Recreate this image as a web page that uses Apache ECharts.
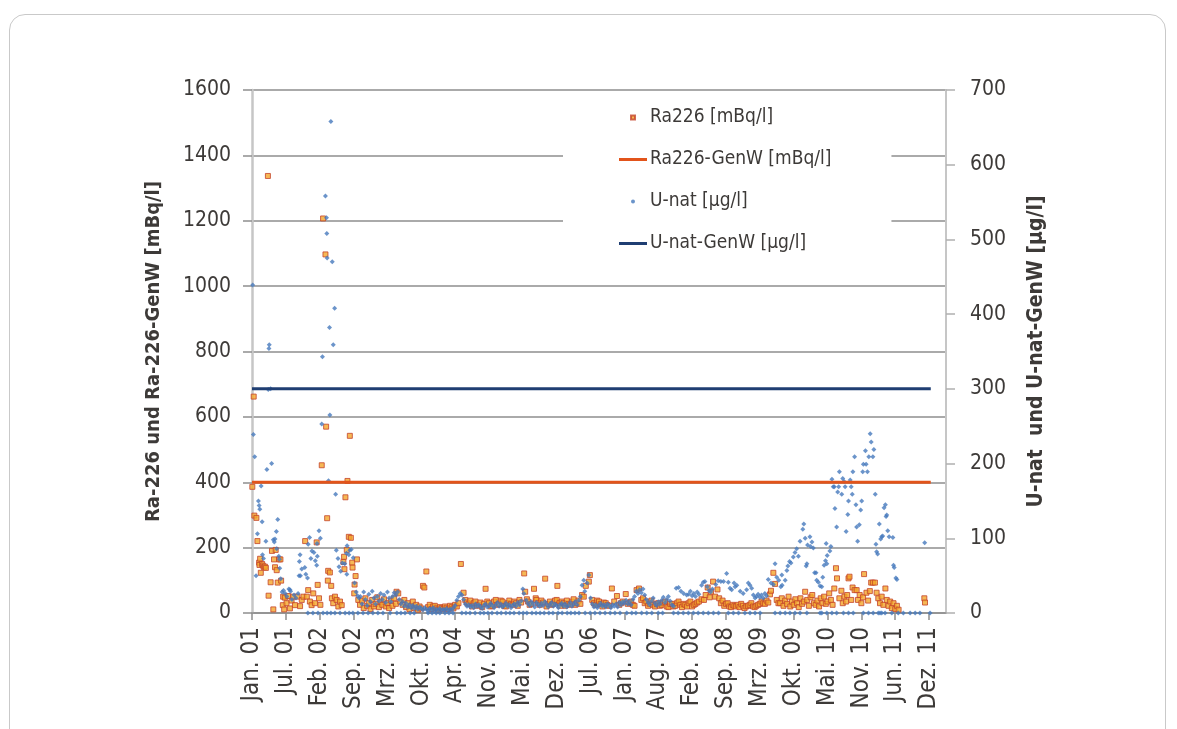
<!DOCTYPE html>
<html>
<head>
<meta charset="utf-8">
<title>Ra-226 und U-nat</title>
<script src="https://cdn.jsdelivr.net/npm/echarts@6/dist/echarts.min.js"></script>
<style>
  html, body { margin: 0; padding: 0; background: #ffffff; }
  #frame {
    position: absolute; left: 9px; top: 14px; width: 1157px; height: 760px;
    border: 1.5px solid #c9c9c9; border-radius: 16px; box-sizing: border-box;
  }
  #chart { position: absolute; left: 0; top: 0; width: 1177px; height: 729px; }
</style>
</head>
<body>
<div id="frame"></div>
<div id="chart"></div>
<script>
// Category labels of the time axis (one label per axis unit)
const tickLabels = ['Jan. 01', 'Jul. 01', 'Feb. 02', 'Sep. 02', 'Mrz. 03', 'Okt. 03', 'Apr. 04',
  'Nov. 04', 'Mai. 05', 'Dez. 05', 'Jul. 06', 'Jan. 07', 'Aug. 07', 'Feb. 08', 'Sep. 08',
  'Mrz. 09', 'Okt. 09', 'Mai. 10', 'Nov. 10', 'Jun. 11', 'Dez. 11'];

// Guideline values (Grenzwerte) and the time span they are drawn over
const raLimit = 400;     // mBq/l
const uLimit = 300;      // µg/l
const limitSpan = [0, 20.05];

// Ra-226 measurements: [time position, mBq/l]
const ra226 = [
  [0.01,386],[0.05,662],[0.07,298],[0.13,291],[0.16,220],[0.21,154],[0.22,147],[0.24,166],[0.26,123],[0.30,150],
  [0.32,145],[0.35,140],[0.38,142],[0.41,138],[0.47,1337],[0.49,53],[0.55,94],[0.59,190],[0.63,11],[0.65,164],
  [0.68,140],[0.70,193],[0.73,131],[0.76,93],[0.80,164],[0.84,164],[0.86,99],[0.91,24],[0.92,50],[0.95,11],
  [0.97,47],[1.02,30],[1.07,52],[1.12,14],[1.17,38],[1.22,50],[1.27,24],[1.34,50],[1.42,21],[1.47,40],
  [1.52,50],[1.57,220],[1.62,50],[1.66,70],[1.71,35],[1.76,24],[1.81,60],[1.86,30],[1.91,216],[1.94,86],
  [1.98,45],[2.02,25],[2.06,452],[2.10,1207],[2.17,1097],[2.19,570],[2.22,290],[2.24,99],[2.25,129],[2.30,124],
  [2.34,83],[2.36,45],[2.40,30],[2.45,50],[2.50,40],[2.55,20],[2.60,35],[2.65,24],[2.70,156],[2.72,172],
  [2.73,134],[2.76,354],[2.80,193],[2.82,404],[2.86,233],[2.89,542],[2.92,230],[2.96,154],[2.97,139],[3.02,60],
  [3.03,87],[3.06,113],[3.10,164],[3.14,40],[3.19,25],
  [3.25,38],[3.30,15],[3.35,45],[3.40,22],[3.45,30],[3.50,12],[3.55,40],[3.60,20],[3.65,28],[3.70,48],
  [3.75,18],[3.80,35],[3.85,25],[3.90,42],[3.95,20],[4.00,30],[4.05,15],[4.10,38],[4.15,22],[4.20,45],
  [4.25,28],[4.27,65],[4.32,60],[4.38,35],[4.45,25],[4.50,40],[4.55,18],[4.60,30],[4.65,12],[4.70,22],
  [4.75,35],[4.80,15],[4.85,25],[4.90,10],[4.95,20],[5.00,14],[5.05,83],[5.09,78],[5.15,127],[5.20,18],
  [5.25,25],[5.30,12],[5.35,20],[5.40,22],[5.45,14],[5.50,10],[5.55,18],[5.60,15],[5.65,12],[5.70,20],
  [5.75,16],[5.80,12],[5.85,22],[5.90,18],[5.95,14],[6.00,25],[6.05,20],[6.10,30],[6.17,150],[6.25,62],
  [6.30,40],[6.35,32],[6.40,28],[6.45,38],[6.50,20],[6.55,30],[6.60,35],[6.65,22],[6.70,25],[6.75,32],
  [6.80,18],[6.85,28],[6.90,74],[6.95,35],[7.00,30],[7.05,20],[7.10,22],[7.15,35],[7.20,40],[7.25,25],
  [7.30,28],[7.35,38],[7.40,35],[7.45,22],[7.50,20],[7.55,30],[7.60,38],[7.65,28],[7.70,25],[7.75,35],
  [7.80,30],[7.85,22],[7.90,40],[7.95,32],[8.04,121],[8.07,65],[8.12,42],[8.15,35],[8.20,25],[8.25,28],
  [8.33,74],[8.38,45],[8.40,40],[8.45,30],[8.50,25],[8.55,38],[8.60,32],[8.66,105],[8.70,20],[8.75,28],
  [8.80,35],[8.85,25],[8.90,28],[8.95,38],[9.00,40],[9.02,83],[9.08,30],[9.10,22],[9.15,35],[9.20,30],
  [9.25,22],[9.30,38],[9.35,28],[9.40,25],[9.45,35],[9.50,42],[9.55,25],[9.60,30],[9.65,38],[9.70,28],
  [9.75,55],[9.80,50],[9.86,83],[9.95,96],[9.98,116],[10.05,40],[10.10,30],[10.15,25],[10.20,38],[10.25,35],
  [10.30,28],[10.35,20],[10.40,32],[10.45,30],[10.50,24],[10.55,22],[10.63,75],[10.70,35],[10.78,52],[10.85,25],
  [10.90,30],[10.95,35],[11.04,58],[11.10,28],[11.15,32],[11.20,35],[11.25,25],[11.30,22],[11.36,70],[11.43,75],
  [11.50,40],[11.55,45],[11.60,30],[11.65,35],[11.70,22],[11.75,28],[11.80,38],[11.85,25],[11.90,20],[11.95,28],
  [12.00,30],[12.05,22],[12.10,25],[12.15,32],[12.20,35],[12.25,20],[12.30,18],[12.35,28],[12.40,28],[12.45,20],
  [12.50,22],[12.55,30],[12.60,35],[12.65,25],[12.70,18],[12.75,28],[12.80,25],[12.85,20],[12.90,30],[12.95,35],
  [13.00,20],[13.05,25],[13.10,28],[13.15,32],[13.20,35],[13.28,42],[13.35,40],[13.40,55],[13.46,78],[13.52,48],
  [13.56,65],[13.62,96],[13.68,50],[13.75,72],[13.80,45],[13.85,30],[13.90,38],[13.95,22],[14.00,28],[14.05,30],
  [14.10,20],[14.15,18],[14.20,25],[14.25,22],[14.30,20],[14.35,25],[14.40,18],[14.45,28],[14.50,22],[14.55,15],
  [14.60,20],[14.65,22],[14.70,25],[14.75,30],[14.80,20],[14.85,18],[14.90,22],[14.95,25],[15.00,28],[15.05,35],
  [15.10,30],[15.15,28],[15.20,38],[15.25,32],[15.30,57],[15.33,68],[15.40,123],[15.45,89],[15.50,40],[15.55,30],
  [15.60,30],[15.65,45],[15.70,22],[15.75,38],[15.80,28],[15.85,50],[15.90,20],[15.95,35],[16.00,25],[16.05,42],
  [16.10,30],[16.15,18],[16.20,45],[16.25,28],[16.30,35],[16.34,65],[16.40,40],[16.45,22],[16.50,48],[16.55,55],
  [16.60,30],[16.65,25],[16.70,38],[16.75,20],[16.80,45],[16.85,30],[16.90,50],[16.95,28],[17.00,35],[17.05,60],
  [17.10,40],[17.15,25],[17.20,75],[17.25,137],[17.28,106],[17.35,45],[17.41,68],[17.45,30],[17.50,50],[17.55,35],
  [17.58,55],[17.62,106],[17.65,111],[17.70,40],[17.74,78],[17.80,70],[17.86,70],[17.90,40],[17.95,55],[18.00,30],
  [18.05,48],[18.08,119],[18.15,62],[18.20,38],[18.25,67],[18.29,93],[18.34,93],[18.40,93],[18.45,62],[18.50,45],
  [18.55,30],[18.60,50],[18.65,25],[18.71,75],[18.75,40],[18.80,22],[18.85,35],[18.90,15],[18.95,30],[19.00,12],
  [19.05,22],[19.10,10],[19.86,45],[19.88,32]
];

// U-nat measurements: [time position, µg/l]
const uNat = [
  [0.02,439],[0.04,239],[0.08,209],[0.12,50],[0.16,106],[0.19,150],[0.21,144],[0.23,139],[0.27,170],[0.30,122],
  [0.31,78],[0.34,73],[0.41,96],[0.44,192],[0.48,299],[0.50,354],[0.51,359],[0.55,300],[0.58,200],[0.63,98],
  [0.66,95],[0.68,99],[0.72,109],[0.73,86],[0.76,125],[0.79,76],[0.81,72],[0.82,60],[0.85,46],[0.89,28],
  [0.93,30],[0.98,26],[1.03,22],[1.09,32],[1.12,31],[1.14,29],[1.18,18],[1.24,24],[1.30,20],[1.36,26],
  [1.39,50],[1.40,69],[1.42,78],[1.43,50],[1.47,59],[1.56,61],[1.59,52],[1.64,47],[1.66,92],[1.70,101],
  [1.74,73],[1.77,83],[1.83,81],[1.87,70],[1.91,64],[1.92,93],[1.93,76],[1.98,110],[2.02,100],[2.06,253],
  [2.08,343],[2.17,558],[2.20,529],[2.21,508],[2.22,475],[2.26,177],[2.29,382],[2.30,265],[2.33,658],[2.37,470],
  [2.40,359],[2.44,408],[2.47,159],[2.49,84],[2.54,73],[2.57,62],[2.62,56],[2.67,67],[2.74,66],[2.79,80],
  [2.80,52],[2.81,90],[2.86,78],[2.89,84],[2.93,85],[2.99,74],[3.03,40],[3.08,28],[3.12,23],[3.16,20],
  [3.20,22],[3.25,12],[3.30,28],[3.35,18],[3.40,10],[3.45,25],[3.50,15],[3.55,29],[3.60,20],[3.65,12],
  [3.70,22],[3.75,16],[3.80,26],[3.85,18],[3.90,24],[3.95,14],[4.00,28],[4.05,20],[4.10,15],[4.15,22],
  [4.20,27],[4.25,24],[4.30,28],[4.35,18],[4.40,12],[4.45,15],[4.50,9],[4.55,13],[4.60,8],[4.65,11],
  [4.70,7],[4.75,10],[4.80,6],[4.85,9],[4.90,5],[4.95,8],[5.00,6],[5.05,4],[5.10,7],[5.15,5],
  [5.20,3],[5.25,6],[5.30,4],[5.35,7],[5.40,3],[5.45,5],[5.50,4],[5.55,6],[5.60,3],[5.65,5],
  [5.70,4],[5.75,6],[5.80,3],[5.85,5],[5.90,4],[5.95,7],[6.00,10],[6.05,17],[6.10,22],[6.15,26],
  [6.20,24],[6.25,18],[6.30,12],[6.35,9],[6.40,11],[6.45,8],[6.50,10],[6.55,7],[6.60,12],[6.65,9],
  [6.70,11],[6.75,8],[6.80,6],[6.85,10],[6.90,12],[6.95,8],[7.00,9],[7.05,13],[7.10,10],[7.15,7],
  [7.20,11],[7.25,14],[7.30,9],[7.35,12],[7.40,8],[7.45,10],[7.50,13],[7.55,9],[7.60,11],[7.65,7],
  [7.70,10],[7.75,12],[7.80,9],[7.85,14],[7.90,11],[7.95,16],[8.00,32],[8.03,26],[8.10,17],[8.15,13],
  [8.20,10],[8.25,15],[8.30,12],[8.35,8],[8.40,14],[8.45,11],[8.50,9],[8.55,13],[8.60,10],[8.65,15],
  [8.70,12],[8.75,8],[8.80,11],[8.85,14],[8.90,9],[8.95,12],[9.00,10],[9.05,7],[9.10,11],[9.15,13],
  [9.20,9],[9.25,12],[9.30,8],[9.35,10],[9.40,14],[9.45,9],[9.50,12],[9.55,15],[9.60,11],[9.65,17],
  [9.70,22],[9.75,37],[9.80,44],[9.83,29],[9.90,40],[9.95,51],[10.00,20],[10.05,12],[10.10,8],[10.15,11],
  [10.20,7],[10.25,10],[10.30,13],[10.35,9],[10.40,11],[10.45,8],[10.50,12],[10.55,10],[10.60,7],[10.65,11],
  [10.70,9],[10.75,12],[10.80,8],[10.85,14],[10.90,11],[10.95,15],[11.00,13],[11.05,17],[11.10,12],[11.15,15],
  [11.20,11],[11.25,18],[11.30,22],[11.35,29],[11.40,26],[11.45,31],[11.50,27],[11.55,32],[11.60,24],[11.65,18],
  [11.70,14],[11.75,11],[11.80,16],[11.85,20],[11.90,13],[11.95,10],[12.00,15],[12.05,12],[12.10,17],[12.15,21],
  [12.20,14],[12.25,18],[12.30,22],[12.35,16],[12.40,11],[12.45,9],[12.53,33],[12.60,34],[12.67,29],[12.75,26],
  [12.84,24],[12.90,25],[12.95,29],[13.00,23],[13.05,26],[13.10,22],[13.15,28],[13.20,25],[13.28,37],[13.33,41],
  [13.38,42],[13.45,35],[13.50,30],[13.55,28],[13.60,32],[13.70,38],[13.77,43],[13.85,42],[13.93,42],[14.02,53],
  [14.07,41],[14.12,33],[14.17,31],[14.24,40],[14.27,35],[14.32,37],[14.42,29],[14.51,26],[14.61,31],[14.66,40],
  [14.71,37],[14.76,33],[14.81,24],[14.86,20],[14.90,22],[14.95,25],[15.00,21],[15.05,24],[15.10,20],[15.15,26],
  [15.20,23],[15.25,45],[15.33,40],[15.40,38],[15.45,66],[15.50,48],[15.56,44],[15.62,35],[15.65,51],[15.66,37],
  [15.75,44],[15.80,57],[15.83,63],[15.88,69],[15.92,67],[15.99,75],[16.04,81],[16.09,86],[16.14,76],[16.19,96],
  [16.27,112],[16.30,119],[16.34,100],[16.37,63],[16.39,66],[16.41,91],[16.48,102],[16.50,89],[16.54,95],[16.58,87],
  [16.62,54],[16.66,54],[16.68,44],[16.73,41],[16.78,36],[16.83,35],[16.86,48],[16.90,64],[16.94,70],[16.96,93],
  [16.98,66],[16.99,77],[17.07,83],[17.10,89],[17.13,179],[17.17,169],[17.20,169],[17.22,140],[17.27,115],[17.30,162],
  [17.33,169],[17.35,189],[17.42,159],[17.45,180],[17.49,176],[17.52,169],[17.55,109],[17.60,132],[17.62,150],[17.67,178],
  [17.70,169],[17.73,159],[17.75,189],[17.80,209],[17.84,145],[17.86,115],[17.89,96],[17.94,118],[17.98,138],[18.01,150],
  [18.04,189],[18.06,199],[18.12,217],[18.14,199],[18.18,189],[18.22,209],[18.26,240],[18.29,229],[18.34,209],[18.37,219],
  [18.41,159],[18.43,92],[18.45,82],[18.48,79],[18.53,119],[18.57,99],[18.60,102],[18.63,103],[18.67,141],[18.71,145],
  [18.73,129],[18.75,131],[18.78,110],[18.82,102],[18.93,101],[18.95,64],[18.97,61],[19.02,47],[19.05,45],[19.87,94]
];

// Sampling dates where U-nat was reported as 0 µg/l
const uNatZero = [
  1.65,1.80,1.95,2.10,2.22,2.33,2.45,2.60,2.75,2.87,2.98,3.13,3.28,3.43,3.57,3.72,3.87,4.08,4.28,4.40,
  4.52,4.67,4.79,5.20,5.32,5.44,5.55,5.70,5.82,5.94,6.20,6.32,6.44,6.59,6.74,6.85,6.97,7.09,7.24,7.36,
  7.50,7.62,7.74,7.89,8.01,8.12,8.27,8.39,8.51,8.63,8.77,8.89,9.04,9.16,9.31,9.42,9.54,9.66,9.84,9.99,
  10.13,10.28,10.43,10.58,10.72,10.87,11.07,11.22,11.34,11.51,11.66,11.81,12.00,12.13,12.45,12.59,12.74,12.89,13.04,13.18,
  13.33,13.48,13.63,13.78,14.07,14.22,14.37,14.56,14.71,14.86,15.01,15.45,15.60,15.75,15.89,16.04,16.19,16.39,16.78,16.83,
  16.98,17.13,17.27,17.47,17.62,17.76,18.06,18.21,18.35,18.50,18.55,18.60,18.70,18.90,19.09,19.24,19.44,19.59,19.73,20.03
];

const FONT = '"DejaVu Sans Condensed", "Liberation Sans", sans-serif';
const TEXT = '#3d3a38';

const chart = echarts.init(document.getElementById('chart'), null, { renderer: 'canvas' });

chart.setOption({
  animation: false,
  backgroundColor: 'transparent',
  textStyle: { fontFamily: FONT, color: TEXT },
  grid: { left: 252, right: 231, top: 90, bottom: 116, containLabel: false },
  legend: {
    orient: 'vertical',
    left: 563,
    top: 96,
    padding: [12, 60, 12, 56],
    backgroundColor: '#ffffff',
    itemWidth: 28,
    itemHeight: 4,
    itemGap: 23,
    symbolKeepAspect: true,
    textStyle: { fontFamily: FONT, fontSize: 19, color: TEXT, padding: [0, 0, 0, -2] },
    data: [
      { name: 'Ra226 [mBq/l]', icon: 'path://M0,0H10V10H0Z' },
      { name: 'Ra226-GenW [mBq/l]', icon: 'path://M0,0H28V3H0Z' },
      { name: 'U-nat [µg/l]', icon: 'circle' },
      { name: 'U-nat-GenW [µg/l]', icon: 'path://M0,0H28V3H0Z' }
    ]
  },
  xAxis: {
    type: 'value',
    min: 0,
    max: 20.5,
    interval: 1,
    axisLine: { show: true, onZero: false, lineStyle: { color: '#8e8e8e', width: 1.5 } },
    axisTick: { show: true, length: 7, lineStyle: { color: '#8e8e8e', width: 1.5 } },
    splitLine: { show: false },
    axisLabel: {
      rotate: 90,
      margin: 14,
      fontSize: 24,
      fontFamily: FONT,
      color: TEXT,
      showMaxLabel: false,
      formatter: v => (Number.isInteger(v) && tickLabels[v]) ? tickLabels[v] : ''
    }
  },
  yAxis: [
    {
      type: 'value',
      position: 'left',
      min: 0,
      max: 1600,
      interval: 200,
      name: 'Ra-226 und Ra-226-GenW [mBq/l]',
      nameLocation: 'middle',
      nameRotate: 90,
      nameGap: 88,
      nameTextStyle: { fontFamily: FONT, fontSize: 20, fontWeight: 'bold', color: TEXT },
      axisLine: { show: true, lineStyle: { color: '#c6c6c6', width: 2.5 } },
      axisTick: { show: true, length: 9, lineStyle: { color: '#8e8e8e', width: 1.5 } },
      splitLine: { show: true, lineStyle: { color: '#8e8e8e', width: 1.5 } },
      axisLabel: { margin: 21, fontSize: 21, fontFamily: FONT, color: TEXT, formatter: v => String(v) }
    },
    {
      type: 'value',
      position: 'right',
      min: 0,
      max: 700,
      interval: 100,
      name: 'U-nat  und U-nat-GenW [µg/l]',
      nameLocation: 'middle',
      nameRotate: 90,
      nameGap: 80,
      nameTextStyle: { fontFamily: FONT, fontSize: 21, fontWeight: 'bold', color: TEXT },
      axisLine: { show: true, lineStyle: { color: '#c6c6c6', width: 2 } },
      axisTick: { show: true, length: 9, lineStyle: { color: '#b0b0b0', width: 1.5 } },
      splitLine: { show: false },
      axisLabel: { margin: 24, fontSize: 21, fontFamily: FONT, color: TEXT, formatter: v => String(v) }
    }
  ],
  series: [
    {
      name: 'Ra226 [mBq/l]',
      type: 'scatter',
      yAxisIndex: 0,
      symbol: 'rect',
      symbolSize: 5,
      itemStyle: { color: '#f4a62a', borderColor: '#c4442b', borderWidth: 1 },
      data: ra226,
      z: 2
    },
    {
      name: 'Ra226-GenW [mBq/l]',
      type: 'line',
      yAxisIndex: 0,
      symbol: 'none',
      itemStyle: { color: '#e2541b' },
      lineStyle: { color: '#e2541b', width: 3 },
      data: limitSpan.map(t => [t, raLimit]),
      z: 3
    },
    {
      name: 'U-nat [µg/l]',
      type: 'scatter',
      yAxisIndex: 1,
      symbol: 'diamond',
      symbolSize: 5,
      itemStyle: { color: '#4679bd' },
      data: uNat.concat(uNatZero.map(t => [t, 0])),
      z: 2
    },
    {
      name: 'U-nat-GenW [µg/l]',
      type: 'line',
      yAxisIndex: 1,
      symbol: 'none',
      itemStyle: { color: '#1f3e72' },
      lineStyle: { color: '#1f3e72', width: 3 },
      data: limitSpan.map(t => [t, uLimit]),
      z: 3
    }
  ]
});
</script>
</body>
</html>
